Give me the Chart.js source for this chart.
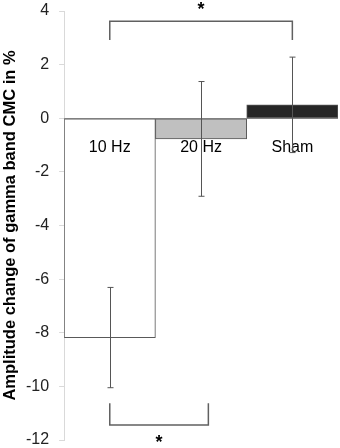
<!DOCTYPE html>
<html>
<head>
<meta charset="utf-8">
<script src="https://cdn.jsdelivr.net/npm/chart.js@4/dist/chart.umd.min.js"></script>
<style>
  html, body { margin: 0; padding: 0; background: #fff; }
  #wrap { width: 340px; height: 448px; position: relative; }
</style>
</head>
<body>
<div id="wrap"><canvas id="chart"></canvas></div>
<script>
// data
const categories = ["10 Hz", "20 Hz", "Sham"];
const means = [-8.18, -0.77, 0.5];
const errors = [1.87, 2.14, 1.78];
const barColors = ["#ffffff", "#c0c0c0", "#262626"];

// significance brackets (x in category units, y in %)
const bracketFrom = [0, 0];
const bracketTo = [2, 1.08];
const bracketY = [3.62, -11.44];
const bracketLegY = [2.92, -10.63];
const starY = [4.22, -11.93];

const yMin = -12;
const yMax = 4;
const yStep = 2;

const FONT = "'Liberation Sans', Arial, sans-serif";

const overlayPlugin = {
  id: "overlay",
  afterDatasetsDraw(chart) {
    const ctx = chart.ctx;
    const x = chart.scales.x;
    const y = chart.scales.y;
    const area = chart.chartArea;
    ctx.save();

    // category axis sits on zero
    const y0 = Math.round(y.getPixelForValue(0)) + 0.5;
    ctx.strokeStyle = "#808080";
    ctx.lineWidth = 1;
    ctx.beginPath();
    ctx.moveTo(area.left, y0);
    ctx.lineTo(area.right, y0);
    ctx.stroke();

    // category labels just under the zero line
    ctx.fillStyle = "#000";
    ctx.font = "16px " + FONT;
    ctx.textAlign = "center";
    ctx.textBaseline = "alphabetic";
    categories.forEach((c, i) => {
      ctx.fillText(c, x.getPixelForValue(i), y0 + 33);
    });

    // error bars
    ctx.strokeStyle = "#555";
    means.forEach((m, i) => {
      const px = Math.round(x.getPixelForValue(i)) + 0.5;
      const top = y.getPixelForValue(m + errors[i]);
      const bot = y.getPixelForValue(m - errors[i]);
      ctx.beginPath();
      ctx.moveTo(px, top);
      ctx.lineTo(px, bot);
      ctx.moveTo(px - 3, top);
      ctx.lineTo(px + 3, top);
      ctx.moveTo(px - 3, bot);
      ctx.lineTo(px + 3, bot);
      ctx.stroke();
    });
    ctx.restore();
  },
  afterDraw(chart) {
    const ctx = chart.ctx;
    const x = chart.scales.x;
    const y = chart.scales.y;
    ctx.save();
    ctx.strokeStyle = "#606060";
    ctx.lineWidth = 1.5;
    ctx.fillStyle = "#000";
    ctx.font = "bold 18px " + FONT;
    ctx.textAlign = "center";
    ctx.textBaseline = "alphabetic";
    bracketFrom.forEach((from, i) => {
      const x1 = x.getPixelForValue(from);
      const x2 = x.getPixelForValue(bracketTo[i]);
      const yb = y.getPixelForValue(bracketY[i]);
      const yl = y.getPixelForValue(bracketLegY[i]);
      ctx.beginPath();
      ctx.moveTo(x1, yl);
      ctx.lineTo(x1, yb);
      ctx.lineTo(x2, yb);
      ctx.lineTo(x2, yl);
      ctx.stroke();
      // centre the star glyph on its value
      const m = ctx.measureText("*");
      const sy = y.getPixelForValue(starY[i]);
      const off = (m.actualBoundingBoxAscent - m.actualBoundingBoxDescent) / 2;
      ctx.fillText("*", (x1 + x2) / 2, sy + off);
    });
    ctx.restore();
  },
};

new Chart(document.getElementById("chart"), {
  type: "bar",
  data: {
    labels: categories,
    datasets: [
      {
        data: means,
        backgroundColor: barColors,
        borderColor: "#595959",
        borderWidth: 1,
        borderSkipped: false,
        categoryPercentage: 1,
        barPercentage: 1,
      },
    ],
  },
  options: {
    responsive: true,
    maintainAspectRatio: false,
    animation: false,
    layout: {
      padding: { top: 0, right: 2, bottom: 0, left: 0 },
    },
    plugins: {
      legend: { display: false },
      tooltip: { enabled: false },
    },
    scales: {
      x: {
        display: false,
      },
      y: {
        min: yMin,
        max: yMax,
        // tick padding also pads the ends of the axis; keep the plot tall
        afterFit(scale) {
          scale.paddingTop = 11;
          scale.paddingBottom = 8;
        },
        grid: {
          display: true,
          drawOnChartArea: false,
          drawTicks: true,
          tickLength: 5,
          color: "#d9d9d9",
        },
        border: { display: true, color: "#d9d9d9" },
        ticks: {
          stepSize: yStep,
          padding: 10,
          color: "#222",
          font: { family: FONT, size: 16 },
        },
        title: {
          display: true,
          text: "Amplitude change of gamma band CMC in %",
          color: "#000",
          padding: { top: 1.75, bottom: -2.25 },
          font: { family: FONT, size: 16.5, weight: "bold", lineHeight: 1 },
        },
      },
    },
  },
  plugins: [overlayPlugin],
});
</script>
</body>
</html>
